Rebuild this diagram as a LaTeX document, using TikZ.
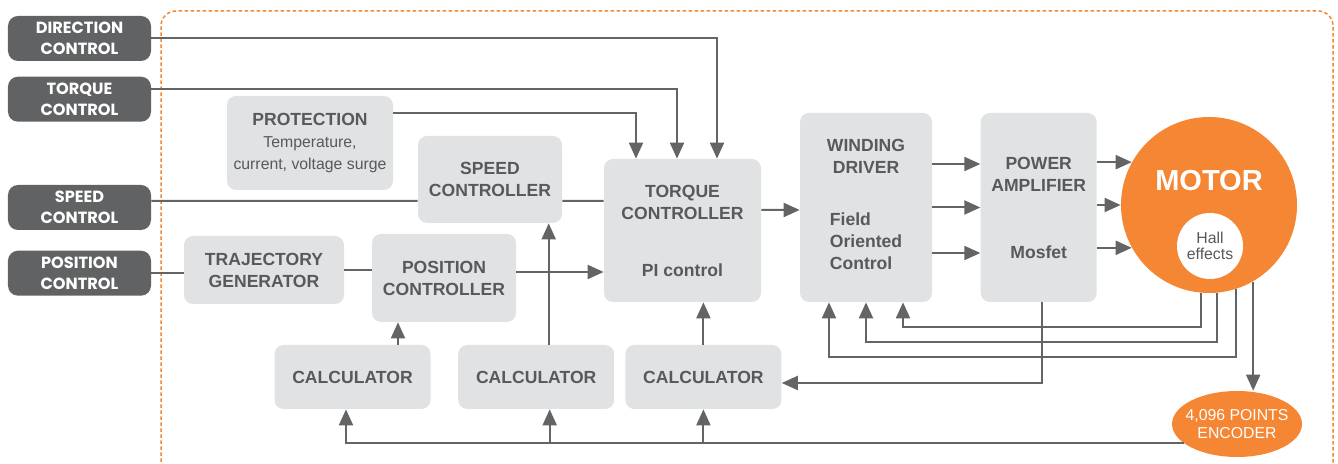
\documentclass[tikz,border=0pt]{standalone}
\usepackage{fontspec}
\setmainfont{Liberation Sans}
\newfontfamily\ctrlfont{Poppins}
\usepackage{tikz}
\usetikzlibrary{shapes.geometric, arrows.meta, positioning, calc}
\usepackage{xcolor}

\definecolor{boxgray}{HTML}{E1E2E3}
\definecolor{txtgray}{HTML}{58595B}
\definecolor{wiregray}{HTML}{636466}
\definecolor{ctrlgray}{HTML}{616264}
\definecolor{motororange}{HTML}{F48634}

\newcommand{\subtxt}{\mdseries\fontsize{9}{12}\selectfont}

\begin{document}
\begin{tikzpicture}[
    node distance=0.4cm,
    >={Triangle[length=0.32cm, width=0.28cm]},
    every node/.style={align=center}
]
    % Define styles
    \tikzstyle{ctrl} = [rectangle, rounded corners=0.2cm, minimum width=2.86cm, minimum height=0.9cm, inner sep=0pt, fill=ctrlgray, text=white, font=\ctrlfont\bfseries\fontsize{9.2}{12}\selectfont]
    \tikzstyle{block} = [rectangle, rounded corners=0.18cm, inner sep=0pt, fill=boxgray, text=txtgray, font=\bfseries\fontsize{10}{12.5}\selectfont]
    \tikzstyle{calcbox} = [block, minimum width=3.12cm, minimum height=1.28cm]
    \tikzstyle{motor} = [circle, minimum size=3.52cm, inner sep=0pt, fill=motororange]
    \tikzstyle{sensor} = [circle, minimum size=1.32cm, inner sep=0pt, fill=white, text=txtgray, font=\fontsize{9}{9.5}\selectfont]
    \tikzstyle{encoder} = [ellipse, minimum width=2.6cm, minimum height=1.32cm, inner xsep=-0.2cm, inner ysep=0pt, fill=motororange, text=white, font=\fontsize{9}{10.5}\selectfont]
    \tikzstyle{link} = [draw=wiregray, line width=0.04cm]
    \tikzstyle{arrow} = [link, ->]

    \useasboundingbox (0,0) rectangle (26.76,-9.28);

    % Dashed frame round the drive
    \draw[motororange, line width=0.03cm, dash pattern=on 0.07cm off 0.05cm, rounded corners=0.3cm]
        (3.22,-9.6) -- (3.22,-0.22) -- (26.66,-0.22) -- (26.66,-9.6);

    % Inputs
    \node[ctrl] (dirctrl) at (1.59,-0.77) {DIRECTION\\CONTROL};
    \node[ctrl, below=0.3cm of dirctrl] (trqctrl) {TORQUE\\CONTROL};
    \node[ctrl] (spdctrl) at (1.59,-4.15) {SPEED\\CONTROL};
    \node[ctrl, below=0.4cm of spdctrl] (posctrl) {POSITION\\CONTROL};

    % Control blocks
    \node[block, minimum width=3.32cm, minimum height=1.88cm] (protect) at (6.2,-2.86)
        {PROTECTION\\\subtxt Temperature,\\\subtxt current, voltage surge};
    \node[block, minimum width=2.88cm, minimum height=1.74cm] (speedc) at (9.8,-3.59) {SPEED\\CONTROLLER};
    \node[block, minimum width=3.2cm, minimum height=1.36cm] (traj) at (5.28,-5.4) {TRAJECTORY\\GENERATOR};
    \node[block, minimum width=2.88cm, minimum height=1.76cm] (posc) at (8.88,-5.56) {POSITION\\CONTROLLER};
    \node[block, minimum width=3.14cm, minimum height=2.86cm] (torque) at (13.65,-4.61) {TORQUE\\CONTROLLER\\[0.7cm]PI control};

    % Drive stage
    \node[block, minimum width=2.64cm, minimum height=3.78cm] (winding) at (17.32,-4.15)
        {WINDING\\DRIVER\\[0.6cm]\begin{tabular}[t]{@{}l@{}}Field\\Oriented\\Control\end{tabular}};
    \node[block, minimum width=2.32cm, minimum height=3.78cm, right=0.96cm of winding] (power) {POWER\\AMPLIFIER\\[0.9cm]Mosfet};

    % Motor and sensors
    \node[motor] (motor) at (24.18,-4.1) {};
    \node[sensor] (hall) at (24.2,-4.92) {Hall\\effects};
    \node[text=white, font=\bfseries\fontsize{16.5}{18}\selectfont] (motortxt) at ([yshift=0.48cm]motor.center) {MOTOR};
    \node[encoder] (encoder) at (24.74,-8.48) {4,096 POINTS\\ENCODER};

    % Calculators
    \node[calcbox] (calc1) at (7.05,-7.54) {CALCULATOR};
    \node[calcbox, right=0.54cm of calc1] (calc2) {CALCULATOR};
    \node[calcbox, right=0.21cm of calc2] (calc3) {CALCULATOR};

    % Inputs to torque controller
    \draw[arrow] (dirctrl.east) -| ([xshift=0.69cm]torque.north);
    \draw[arrow] ([yshift=0.21cm]trqctrl.east) -| ([xshift=-0.11cm]torque.north);
    \draw[arrow] ([yshift=0.6cm]protect.east) -| ([xshift=-0.93cm]torque.north);

    % Speed and position chains
    \draw[link] ([yshift=0.13cm]spdctrl.east) -- ([yshift=-0.43cm]speedc.west);
    \draw[link] ([yshift=-0.43cm]speedc.east) -- ([yshift=0.59cm]torque.west);
    \draw[link] (posctrl.east) -- (posctrl.east -| traj.west);
    \draw[link] (traj.east) -- (traj.east -| posc.west);
    \draw[arrow] ([yshift=0.12cm]posc.east) -- ([yshift=-0.83cm]torque.west);

    % Torque controller to motor
    \draw[arrow] ([yshift=0.41cm]torque.east) -- ([yshift=-0.05cm]winding.west);
    \foreach \dy in {0.87,0,-0.91}
        \draw[arrow] ([yshift=\dy cm]winding.east) -- ([yshift=\dy cm]power.west);
    \foreach \ang in {151,180,209}
        \draw[arrow] (power.east |- motor.\ang) -- (motor.\ang);

    % Feedback from motor
    \draw[arrow] (motor.265) -- ++(0,-0.68) -| ([xshift=0.74cm]winding.south);
    \draw[arrow] (motor.275) -- ++(0,-0.97) -| (winding.south);
    \draw[arrow] (motor.288) -- ++(0,-1.35) -| ([xshift=-0.74cm]winding.south);
    \draw[arrow] (motor.300) -- (motor.300 |- encoder.north);
    \draw[arrow] ([xshift=0.06cm]power.south) |- ([yshift=-0.12cm]calc3.east);

    % Encoder to calculators
    \coordinate (c1in) at ([xshift=-0.13cm]calc1.south);
    \coordinate (c2in) at ([xshift=0.27cm]calc2.south);
    \draw[arrow] (encoder.200) -| (c1in);
    \draw[arrow] (c2in |- encoder.200) -- (c2in);
    \draw[arrow] (calc3.south |- encoder.200) -- (calc3.south);

    % Calculators to controllers
    \coordinate (c1out) at ([xshift=0.91cm]calc1.north);
    \coordinate (c2out) at ([xshift=0.25cm]calc2.north);
    \draw[arrow] (c1out) -- (c1out |- posc.south);
    \draw[arrow] (c2out) -- (c2out |- speedc.south);
    \draw[arrow] (calc3.north) -- (calc3.north |- torque.south);

\end{tikzpicture}
\end{document}
